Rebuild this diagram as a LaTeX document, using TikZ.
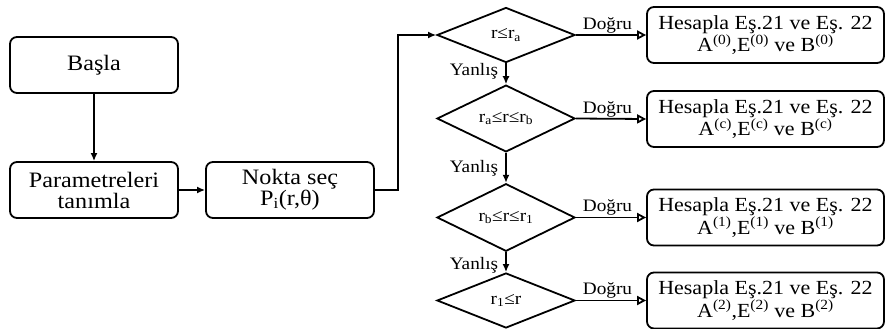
\documentclass[tikz,border=0pt]{standalone}
\usepackage{fontspec}
\setmainfont{Liberation Serif}[FakeStretch=1.1]
\usetikzlibrary{shapes.geometric,arrows.meta}
\begin{document}
\begin{tikzpicture}[x=1pt,y=-1pt,line width=1.8pt,
  lbox/.style={draw,rounded corners=7pt,align=center,inner sep=0pt,minimum width=168pt,minimum height=56pt,font=\fontsize{22}{21}\selectfont},
  rbox/.style={draw,rounded corners=7pt,align=center,inner sep=0pt,minimum width=237pt,minimum height=56pt,font=\fontsize{20}{21}\selectfont},
  dec/.style={draw,diamond,inner sep=0pt,minimum width=138pt,minimum height=55pt,font=\fontsize{17.5}{17.5}\selectfont},
  lab/.style={font=\fontsize{17.5}{17.5}\selectfont,inner sep=1pt},
  arr/.style={-{Latex[length=8pt,width=7pt]}},
  oarr/.style={-{Triangle[open,length=9pt,width=9pt]}}]
\useasboundingbox (0,0) rectangle (887,329);
\node[lbox] (start) at (94,65) {Başla};
\node[lbox] (param) at (94,190) {Parametreleri\\tanımla};
\node[lbox] (nokta) at (290,190) {Nokta seç\\P\textsubscript{i}(r,θ)};
\node[dec] (d1) at (506,35) {r≤r\textsubscript{a}};
\node[dec] (d2) at (506,118.5) {r\textsubscript{a}≤r≤r\textsubscript{b}};
\node[dec] (d3) at (506,217.5) {r\textsubscript{b}≤r≤r\textsubscript{1}};
\node[dec] (d4) at (506,300.5) {r\textsubscript{1}≤r};
\node[rbox] (b1) at (765.5,35) {Hesapla Eş.21 ve Eş. 22\\A\textsuperscript{(0)},E\textsuperscript{(0)} ve B\textsuperscript{(0)}};
\node[rbox] (b2) at (765.5,119) {Hesapla Eş.21 ve Eş. 22\\A\textsuperscript{(c)},E\textsuperscript{(c)} ve B\textsuperscript{(c)}};
\node[rbox] (b3) at (765.5,217.5) {Hesapla Eş.21 ve Eş. 22\\A\textsuperscript{(1)},E\textsuperscript{(1)} ve B\textsuperscript{(1)}};
\node[rbox] (b4) at (765.5,300.5) {Hesapla Eş.21 ve Eş. 22\\A\textsuperscript{(2)},E\textsuperscript{(2)} ve B\textsuperscript{(2)}};
\coordinate (turn) at (398,190);
\draw[arr] (start) -- (param);
\draw[arr] (param) -- (nokta);
\draw[arr] (nokta.east) -- (turn) |- (d1.west);
\draw[arr] (d1.south) -- node[lab,left,xshift=-6pt,pos=0.4] {Yanlış} (d2.north);
\draw[arr] (d2.south) -- node[lab,left,xshift=-6pt,pos=0.5] {Yanlış} (d3.north);
\draw[arr] (d3.south) -- node[lab,left,xshift=-6pt,pos=0.65] {Yanlış} (d4.north);
\draw[oarr] (d1.east) -- node[lab,above,pos=0.45] {Doğru} (b1.west);
\draw[oarr] (d2.east) -- node[lab,above,pos=0.45] {Doğru} (b2.west);
\draw[oarr] (d3.east) -- node[lab,above,pos=0.45] {Doğru} (b3.west);
\draw[oarr] (d4.east) -- node[lab,above,pos=0.45] {Doğru} (b4.west);
\end{tikzpicture}
\end{document}
